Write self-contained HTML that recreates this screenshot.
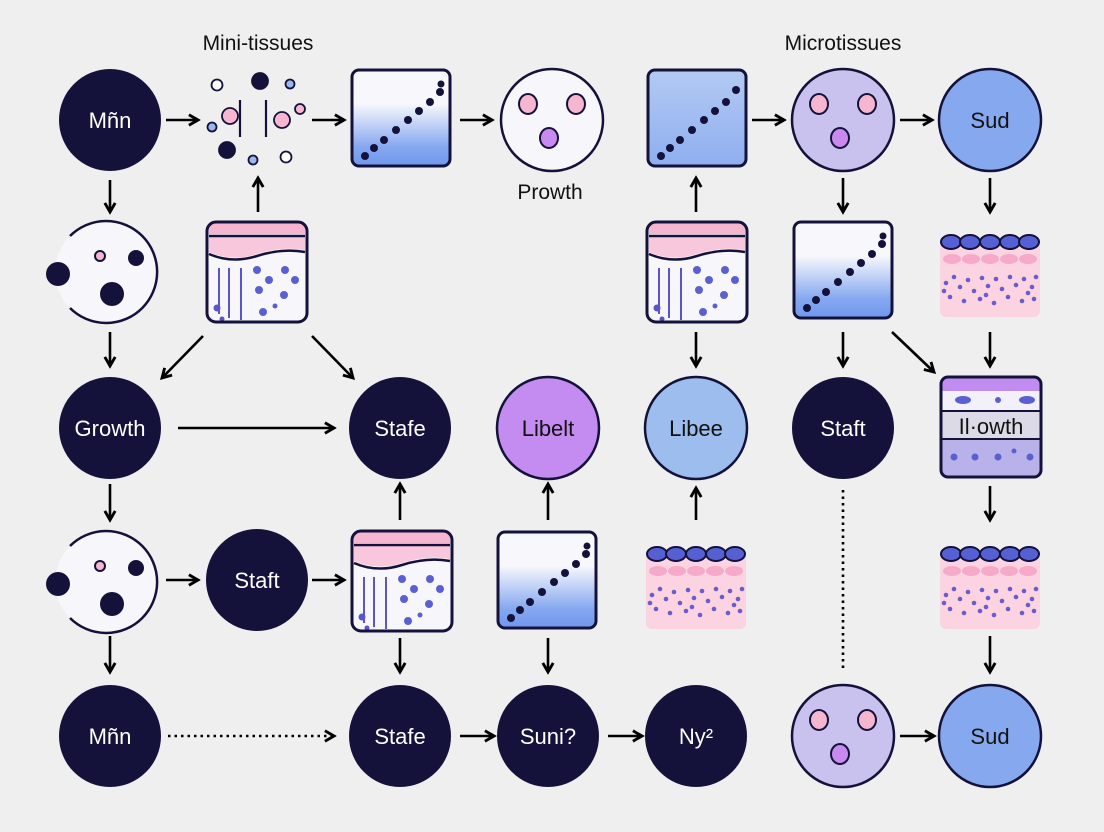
<!DOCTYPE html>
<html><head><meta charset="utf-8"><style>
html,body{margin:0;padding:0;background:#efefef;}
svg{display:block;}
text{font-family:"Liberation Sans",sans-serif;}
</style></head><body>
<svg width="1104" height="832" viewBox="0 0 1104 832" xmlns="http://www.w3.org/2000/svg">
<defs>
<marker id="ah" viewBox="0 0 10 10" refX="8" refY="5" markerWidth="5" markerHeight="5" orient="auto"><path d="M1,1 L8,5 L1,9" fill="none" stroke="#000" stroke-width="2.2"/></marker>
<linearGradient id="gw" x1="0" y1="0" x2="0" y2="1"><stop offset="0.35" stop-color="#f8f8fc"/><stop offset="0.8" stop-color="#86a8f0"/><stop offset="1" stop-color="#6f97ee"/></linearGradient>
<linearGradient id="gb" x1="0" y1="0" x2="0" y2="1"><stop offset="0" stop-color="#b3caf3"/><stop offset="1" stop-color="#8eaef0"/></linearGradient>
<g id="tissue">
<rect x="0" y="0" width="100" height="100" rx="9" fill="#f7f6fb"/>
<path d="M2,12 H98 V2 Q98,0 90,0 H10 Q2,0 2,8Z" fill="#f7b6d0"/>
<path d="M2,14 H98 V28 Q75,24 50,32 Q25,40 2,30Z" fill="#f9c7dc"/>
<line x1="2" y1="14" x2="98" y2="14" stroke="#14123a" stroke-width="2.5"/>
<path d="M2,32 Q25,42 50,34 Q75,26 98,30" fill="none" stroke="#14123a" stroke-width="2.5"/>
<path d="M12,46V92M22,46V96M34,46V98" stroke="#5a55c8" stroke-width="2"/>
<circle cx="10" cy="86" r="3.5" fill="#5a55c8"/><circle cx="15" cy="97" r="2.5" fill="#5a55c8"/>
<circle cx="50" cy="48" r="4" fill="#5a60d0"/><circle cx="62" cy="58" r="4" fill="#5a60d0"/><circle cx="78" cy="48" r="4" fill="#5a60d0"/><circle cx="88" cy="58" r="4" fill="#5a60d0"/><circle cx="52" cy="68" r="4" fill="#5a60d0"/><circle cx="77" cy="73" r="4" fill="#5a60d0"/><circle cx="56" cy="90" r="4" fill="#5a60d0"/><circle cx="68" cy="84" r="2.5" fill="#5a60d0"/>
<rect x="0" y="0" width="100" height="100" rx="9" fill="none" stroke="#14123a" stroke-width="3"/>
</g>
<g id="grad">
<rect x="0" y="0" width="98" height="96" rx="7" fill="url(#gw)" stroke="#14123a" stroke-width="3"/>
<g fill="#14123a"><circle cx="13" cy="86" r="4"/><circle cx="22" cy="78" r="4"/><circle cx="32" cy="70" r="4"/><circle cx="44" cy="60" r="4"/><circle cx="56" cy="50" r="4"/><circle cx="67" cy="41" r="4"/><circle cx="78" cy="32" r="4"/><circle cx="88" cy="22" r="4"/><circle cx="89" cy="14" r="3.5"/></g>
</g>
<g id="grad2">
<rect x="0" y="0" width="98" height="96" rx="7" fill="url(#gb)" stroke="#14123a" stroke-width="3"/>
<g fill="#14123a"><circle cx="13" cy="86" r="4"/><circle cx="22" cy="78" r="4"/><circle cx="32" cy="70" r="4"/><circle cx="44" cy="60" r="4"/><circle cx="56" cy="50" r="4"/><circle cx="67" cy="41" r="4"/><circle cx="78" cy="32" r="4"/><circle cx="88" cy="20" r="4"/></g>
</g>
<g id="epi">
<rect x="0" y="8" width="100" height="76" rx="6" fill="#fbd3e1"/>
<g fill="#f6a9c8"><ellipse cx="12" cy="26" rx="9" ry="5"/><ellipse cx="31" cy="26" rx="9" ry="5"/><ellipse cx="50" cy="26" rx="9" ry="5"/><ellipse cx="69" cy="26" rx="9" ry="5"/><ellipse cx="88" cy="26" rx="9" ry="5"/></g>
<g fill="#6a5ccc"><circle cx="6" cy="50" r="2.3"/><circle cx="14" cy="44" r="2.3"/><circle cx="20" cy="54" r="2.3"/><circle cx="28" cy="47" r="2.3"/><circle cx="34" cy="58" r="2.3"/><circle cx="42" cy="45" r="2.3"/><circle cx="48" cy="53" r="2.3"/><circle cx="56" cy="46" r="2.3"/><circle cx="62" cy="56" r="2.3"/><circle cx="70" cy="44" r="2.3"/><circle cx="76" cy="52" r="2.3"/><circle cx="84" cy="46" r="2.3"/><circle cx="92" cy="54" r="2.3"/><circle cx="96" cy="44" r="2.3"/><circle cx="10" cy="64" r="2.3"/><circle cx="24" cy="68" r="2.3"/><circle cx="40" cy="66" r="2.3"/><circle cx="54" cy="70" r="2.3"/><circle cx="68" cy="64" r="2.3"/><circle cx="82" cy="68" r="2.3"/><circle cx="94" cy="66" r="2.3"/><circle cx="4" cy="58" r="2.3"/><circle cx="88" cy="60" r="2.3"/><circle cx="46" cy="62" r="2.3"/></g>
<g fill="#5560d4" stroke="#14123a" stroke-width="2"><ellipse cx="11" cy="9" rx="10" ry="7"/><ellipse cx="30" cy="9" rx="10" ry="7"/><ellipse cx="50" cy="9" rx="10" ry="7"/><ellipse cx="70" cy="9" rx="10" ry="7"/><ellipse cx="89" cy="9" rx="10" ry="7"/></g>
</g>
<g id="open">
<path d="M-40,-36 A51,51 0 1 1 -40,36" fill="#f7f6fa" stroke="#14123a" stroke-width="2.5"/>
<path d="M-40,-36 A51,51 0 0 0 -40,36" fill="#f7f6fa" stroke="none"/>
<circle cx="-52" cy="2" r="12" fill="#14123a"/>
<circle cx="-10" cy="-16" r="5" fill="#f7b6d0" stroke="#14123a" stroke-width="2"/>
<circle cx="26" cy="-14" r="8" fill="#14123a"/>
<circle cx="2" cy="22" r="12" fill="#14123a"/>
</g>
<g id="face">
<circle cx="0" cy="0" r="51" fill="#f7f6fa" stroke="#14123a" stroke-width="2.5"/>
<ellipse cx="-24" cy="-16" rx="9" ry="10" fill="#f7b6d0" stroke="#14123a" stroke-width="2"/>
<ellipse cx="24" cy="-16" rx="9" ry="10" fill="#f7b6d0" stroke="#14123a" stroke-width="2"/>
<ellipse cx="-3" cy="18" rx="9" ry="10" fill="#c98af0" stroke="#14123a" stroke-width="2"/>
</g>
</defs>

<rect width="1104" height="832" fill="#efefef"/>
<text x="258" y="50" font-size="21" text-anchor="middle" fill="#111">Mini-tissues</text>
<text x="843" y="50" font-size="21" text-anchor="middle" fill="#111">Microtissues</text>

<!-- arrows -->
<g stroke="#000" stroke-width="2.6" fill="none" marker-end="url(#ah)">
<path d="M166,120H198"/><path d="M312,120H344"/><path d="M460,120H492"/><path d="M752,120H784"/><path d="M900,120H932"/>
<path d="M258,212V178"/><path d="M696,212V178"/>
<path d="M110,180V212"/><path d="M843,178V212"/><path d="M990,178V212"/>
<path d="M110,332V366"/><path d="M203,336L162,378"/><path d="M312,336L353,378"/>
<path d="M696,332V366"/><path d="M843,332V366"/><path d="M990,332V366"/><path d="M892,332L934,372"/>
<path d="M178,428H334"/>
<path d="M400,520V484"/><path d="M548,520V484"/><path d="M696,520V488"/>
<path d="M110,484V520"/><path d="M990,486V520"/>
<path d="M166,580H198"/><path d="M312,580H344"/>
<path d="M110,636V672"/><path d="M400,638V672"/><path d="M548,638V672"/><path d="M990,636V672"/>
<path d="M460,736H494"/><path d="M608,736H642"/><path d="M900,736H934"/>
</g>
<path d="M168,736H334" stroke="#000" stroke-width="2.6" stroke-dasharray="2.5,4" fill="none" marker-end="url(#ah)"/>
<path d="M843,490V670" stroke="#000" stroke-width="2.6" stroke-dasharray="2.5,4" fill="none"/>

<!-- row1 -->
<circle cx="110" cy="120" r="51" fill="#14123a"/><text x="110" y="128" font-size="22" fill="#fff" text-anchor="middle">Mñn</text>
<g stroke="#14123a" stroke-width="1.8">
<circle cx="217" cy="85" r="5.5" fill="#fff"/><circle cx="260" cy="81" r="8" fill="#14123a"/><circle cx="290" cy="84" r="4.5" fill="#9ab8ee"/>
<circle cx="212" cy="127" r="4.5" fill="#9ab8ee"/><circle cx="230" cy="116" r="8" fill="#f7b6d0"/><circle cx="282" cy="120" r="8" fill="#f7b6d0"/><circle cx="300" cy="109" r="5" fill="#f7b6d0"/>
<circle cx="227" cy="150" r="8" fill="#14123a"/><circle cx="253" cy="160" r="4.5" fill="#9ab8ee"/><circle cx="286" cy="157" r="5.5" fill="#fff"/>
<path d="M240,100V137M266,100V137" fill="none" stroke-width="2.2"/></g>
<use href="#grad" x="352" y="70"/>
<use href="#face" x="552" y="120"/>
<text x="550" y="199" font-size="21" text-anchor="middle" fill="#111">Prowth</text>
<use href="#grad2" x="648" y="70"/>
<g transform="translate(843,120)"><circle r="51" fill="#c9c2ef" stroke="#14123a" stroke-width="2.5"/><ellipse cx="-24" cy="-16" rx="9" ry="10" fill="#f7b6d0" stroke="#14123a" stroke-width="2"/><ellipse cx="24" cy="-16" rx="9" ry="10" fill="#f7b6d0" stroke="#14123a" stroke-width="2"/><ellipse cx="-3" cy="18" rx="9" ry="10" fill="#c98af0" stroke="#14123a" stroke-width="2"/></g>
<circle cx="990" cy="120" r="51" fill="#86a8ee" stroke="#14123a" stroke-width="2.5"/><text x="990" y="128" font-size="22" fill="#111" text-anchor="middle">Sud</text>

<!-- row2 -->
<use href="#open" x="110" y="272"/>
<use href="#tissue" x="207" y="222"/>
<use href="#tissue" x="647" y="222"/>
<use href="#grad" x="794" y="222"/>
<use href="#epi" x="940" y="233"/>

<!-- row3 -->
<circle cx="110" cy="428" r="51" fill="#14123a"/><text x="110" y="436" font-size="22" fill="#fff" text-anchor="middle">Growth</text>
<circle cx="400" cy="428" r="51" fill="#14123a"/><text x="400" y="436" font-size="22" fill="#fff" text-anchor="middle">Stafe</text>
<circle cx="548" cy="428" r="51" fill="#c48cf0" stroke="#14123a" stroke-width="2.5"/><text x="548" y="436" font-size="22" fill="#111" text-anchor="middle">Libelt</text>
<circle cx="696" cy="428" r="51" fill="#9dbdee" stroke="#14123a" stroke-width="2.5"/><text x="696" y="436" font-size="22" fill="#111" text-anchor="middle">Libee</text>
<circle cx="843" cy="428" r="51" fill="#14123a"/><text x="843" y="436" font-size="22" fill="#fff" text-anchor="middle">Staft</text>
<g transform="translate(941,377)">
<rect width="100" height="100" rx="7" fill="#f2f0f8"/>
<rect x="1" y="1" width="98" height="13" fill="#c08cf0"/>
<ellipse cx="22" cy="23" rx="8" ry="4" fill="#5a60d0"/><circle cx="57" cy="23" r="3" fill="#5a60d0"/><ellipse cx="86" cy="23" rx="8" ry="4" fill="#5a60d0"/>
<rect x="1" y="35" width="98" height="26" fill="#dcdae6"/>
<rect x="1" y="62" width="98" height="37" fill="#b9b2ea"/>
<g fill="#5a60d0"><circle cx="13" cy="80" r="3.5"/><circle cx="34" cy="80" r="3.5"/><circle cx="57" cy="80" r="3.5"/><circle cx="73" cy="74" r="2.5"/><circle cx="89" cy="80" r="3.5"/></g>
<path d="M1,34H99M1,62H99" stroke="#14123a" stroke-width="2"/>
<rect width="100" height="100" rx="7" fill="none" stroke="#14123a" stroke-width="3"/>
<text x="50" y="57" font-size="22" fill="#111" text-anchor="middle">Il·owth</text>
</g>

<!-- row4 -->
<use href="#open" x="110" y="582"/>
<circle cx="257" cy="580" r="51" fill="#14123a"/><text x="257" y="588" font-size="22" fill="#fff" text-anchor="middle">Staft</text>
<use href="#tissue" x="352" y="531"/>
<use href="#grad" x="498" y="532"/>
<use href="#epi" x="646" y="545"/>
<use href="#epi" x="940" y="545"/>

<!-- row5 -->
<circle cx="110" cy="736" r="51" fill="#14123a"/><text x="110" y="744" font-size="22" fill="#fff" text-anchor="middle">Mñn</text>
<circle cx="400" cy="736" r="51" fill="#14123a"/><text x="400" y="744" font-size="22" fill="#fff" text-anchor="middle">Stafe</text>
<circle cx="548" cy="736" r="51" fill="#14123a"/><text x="548" y="744" font-size="22" fill="#fff" text-anchor="middle">Suni?</text>
<circle cx="696" cy="736" r="51" fill="#14123a"/><text x="696" y="744" font-size="22" fill="#fff" text-anchor="middle">Ny²</text>
<g transform="translate(843,736)"><circle r="51" fill="#c9c2ef" stroke="#14123a" stroke-width="2.5"/><ellipse cx="-24" cy="-16" rx="9" ry="10" fill="#f7b6d0" stroke="#14123a" stroke-width="2"/><ellipse cx="24" cy="-16" rx="9" ry="10" fill="#f7b6d0" stroke="#14123a" stroke-width="2"/><ellipse cx="-3" cy="18" rx="9" ry="10" fill="#c98af0" stroke="#14123a" stroke-width="2"/></g>
<circle cx="990" cy="736" r="51" fill="#86a8ee" stroke="#14123a" stroke-width="2.5"/><text x="990" y="744" font-size="22" fill="#111" text-anchor="middle">Sud</text>
</svg>
</body></html>
